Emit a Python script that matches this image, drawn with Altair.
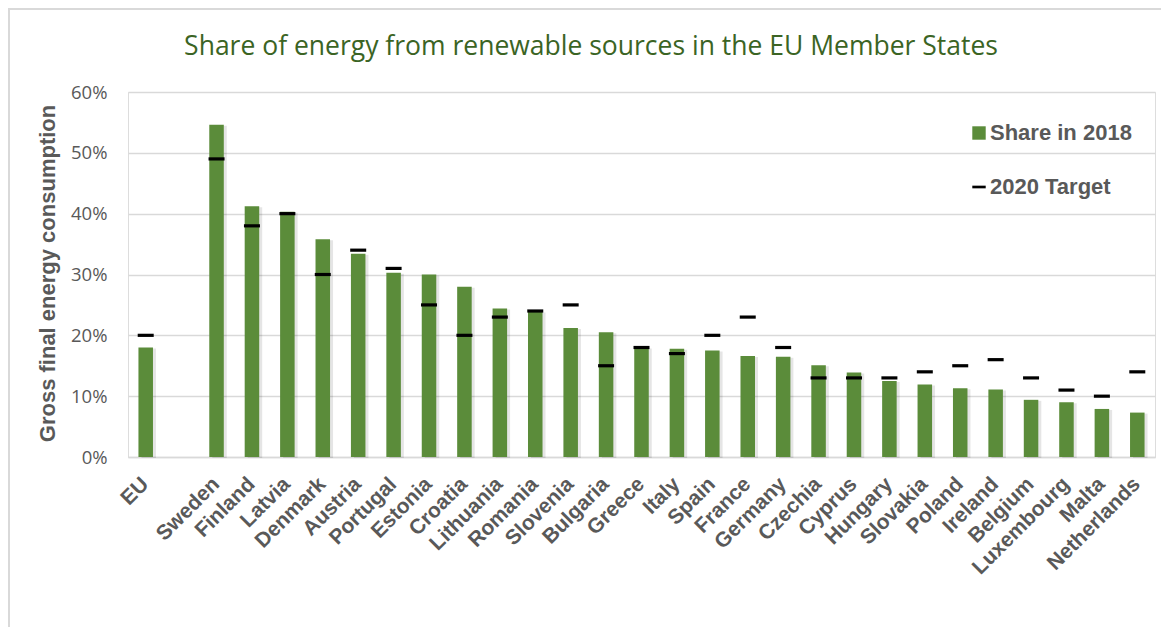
import altair as alt
import pandas as pd

TITLE = "Share of energy from renewable sources in the EU Member States"
GAP = " "
countries = ["EU", "Sweden", "Finland", "Latvia", "Denmark", "Austria", "Portugal",
             "Estonia", "Croatia", "Lithuania", "Romania", "Slovenia", "Bulgaria",
             "Greece", "Italy", "Spain", "France", "Germany", "Czechia", "Cyprus",
             "Hungary", "Slovakia", "Poland", "Ireland", "Belgium", "Luxembourg",
             "Malta", "Netherlands"]
share_2018 = [18.0, 54.6, 41.2, 40.3, 35.8, 33.4, 30.3, 30.0, 28.0, 24.4, 23.9, 21.2,
              20.5, 18.0, 17.8, 17.5, 16.6, 16.5, 15.1, 13.9, 12.5, 11.9, 11.3, 11.1,
              9.4, 9.0, 7.9, 7.3]
target_2020 = [20, 49, 38, 40, 30, 34, 31, 25, 20, 23, 24, 25, 15, 18, 17, 20, 23, 18,
               13, 13, 13, 14, 15, 16, 13, 11, 10, 14]

S_LABEL = "Share in 2018"
T_LABEL = "2020 Target"
GREEN = "#5B8C3A"
GRAY_TEXT = "#595959"
GRID = "#D9D9D9"
DASH = "M-1,-0.2H1V0.2H-1Z"

order = [countries[0], GAP] + countries[1:]

df = pd.DataFrame({
    "country": countries,
    "share": [v / 100 for v in share_2018],
    "target": [v / 100 for v in target_2020],
})

xenc = alt.X("country:N", sort=order,
             scale=alt.Scale(domain=order, paddingInner=0.59, paddingOuter=0.295),
             axis=alt.Axis(title=None, labelAngle=-45, labelFont="Liberation Sans",
                           labelFontWeight="bold", labelFontSize=21, labelColor=GRAY_TEXT,
                           labelPadding=16, labelOffset=-8, ticks=False, domain=True,
                           domainColor=GRID, domainWidth=1.5, grid=False,
                           labelOverlap=False))

yscale = alt.Scale(domain=[0, 0.6], nice=False)
yaxis = alt.Axis(title="Gross final energy consumption", format=".0%",
                 values=[0, 0.1, 0.2, 0.3, 0.4, 0.5, 0.6],
                 labelFont="Open Sans", labelFontSize=18.5, labelColor=GRAY_TEXT,
                 labelPadding=21, ticks=False, domain=False, grid=True, gridColor=GRID,
                 gridWidth=1.5,
                 titleFont="Liberation Sans", titleFontWeight="bold", titleFontSize=22,
                 titleColor=GRAY_TEXT, titleX=-81, titleY=181, titleAngle=-90,
                 titleAlign="center", titleBaseline="middle")

color_scale = alt.Scale(domain=[S_LABEL, T_LABEL], range=[GREEN, "black"])
shape_scale = alt.Scale(domain=[S_LABEL, T_LABEL], range=["square", DASH])
legend = alt.Legend(title=None, orient="none", legendX=840, legendY=30,
                    labelFont="Liberation Sans", labelFontWeight="bold", labelFontSize=22,
                    labelColor=GRAY_TEXT, symbolSize=180, symbolStrokeWidth=0,
                    symbolOpacity=1, rowPadding=32, labelOffset=0, padding=0)

base = alt.Chart(df)

shadow = base.mark_bar(color="black", opacity=0.10, xOffset=3, yOffset=1).encode(
    x=xenc, y=alt.Y("share:Q", scale=yscale, axis=yaxis)
)

bars = base.transform_calculate(series=f"'{S_LABEL}'").mark_bar().encode(
    x=xenc,
    y=alt.Y("share:Q", scale=yscale, axis=yaxis),
    color=alt.Color("series:N", scale=color_scale, legend=legend),
)

targets = base.transform_calculate(series=f"'{T_LABEL}'").mark_point(
    filled=True, opacity=1, size=256, strokeWidth=0
).encode(
    x=xenc,
    y=alt.Y("target:Q", scale=yscale, axis=yaxis),
    color=alt.Color("series:N", scale=color_scale, legend=legend),
    shape=alt.Shape("series:N", scale=shape_scale, legend=legend),
)

title = alt.Chart(pd.DataFrame({"t": [TITLE]})).mark_text(
    font="Open Sans", fontSize=26.5, color="#3B6424", align="center", baseline="alphabetic"
).encode(text="t:N", x=alt.value(463), y=alt.value(-37))

frame_df = pd.DataFrame({"k": [0]})
frame_top = alt.Chart(frame_df).mark_rule(color=GRID, strokeWidth=2).encode(
    x=alt.value(-120), x2=alt.value(1100), y=alt.value(-83))
frame_left = alt.Chart(frame_df).mark_rule(color=GRID, strokeWidth=2).encode(
    x=alt.value(-119), y=alt.value(-84), y2=alt.value(600))

chart = alt.layer(shadow, bars, targets, title, frame_top, frame_left).properties(
    width=1027, height=365,
    autosize=alt.AutoSizeParams(type="none"),
    padding={"left": 120, "top": 84, "right": 6, "bottom": 170},
).configure_view(stroke=None).configure(background="white")

chart.save("out.html", embed_options={"renderer": "svg", "actions": False})
